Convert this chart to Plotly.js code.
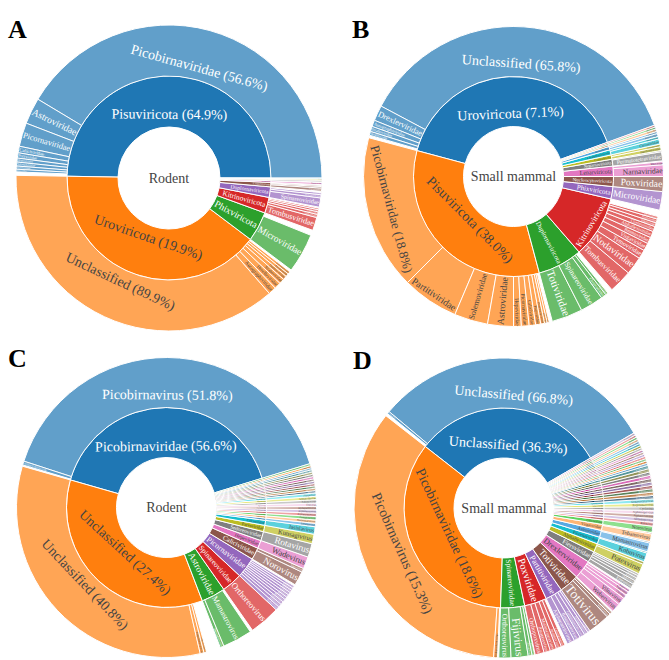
<!DOCTYPE html>
<html>
<head>
<meta charset="utf-8">
<script src="https://cdn.plot.ly/plotly-3.0.1.min.js"></script>
<style>html,body{margin:0;padding:0;background:#fff;}#chart{width:669px;height:660px;}</style>
</head>
<body>
<div id="chart"></div>
<script>
// ---------- Panel A : Rodent, phylum -> family ----------
const rootA = "Rodent";
const phylaA = ["Pisuviricota (64.9%)","Uroviricota (19.9%)","Phixviricota","Kitrinoviricota","Duplornaviricota","Lenarviricota","Negarnaviricota","Cressdnaviricota","Nucleocytoviricota","Artverviricota"];
const phylaValuesA = [179,144,17,9,6,2.5,1,0.7,0.5,0.3];
const familiesA = ["Picobirnaviridae (56.6%)","Astroviridae","Picornaviridae","Caliciviridae","Potyviridae","Hepeviridae","Solemoviridae","Partitiviridae","Secoviridae",
  "Unclassified (89.9%)","Autographiviridae","Herelleviridae","Straboviridae","Demerecviridae","Drexlerviridae","Ackermannviridae",
  "Microviridae",
  "Tombusviridae","Nodaviridae","Tymoviridae","Virgaviridae","Bromoviridae",
  "Spinareoviridae","Sedoreoviridae","Totiviridae",
  "Fiersviridae","Narnaviridae","Mitoviridae",
  "Rhabdoviridae","Circoviridae","Poxviridae","Retroviridae"];
const familyParentsA = [0,0,0,0,0,0,0,0,0, 1,1,1,1,1,1,1, 2, 3,3,3,3,3, 4,4,4, 5,5,5, 6,7,8,9];
const familyValuesA = [149,10,9,2.5,2,1.5,1.5,1.2,1, 132,3,2.5,2,1.5,1.2,1, 15, 5,1.2,1,0.8,0.6, 3.5,1.2,0.8, 1.2,0.6,0.4, 0.8,0.6,0.4,0.3];

// ---------- Panel B : Small mammal, phylum -> family ----------
const rootB = "Small mammal";
const phylaB = ["Uroviricota (7.1%)","Pisuviricota (38.0%)","Duplornaviricota","Kitrinoviricota","Phixviricota","Nucleocytoviricota","Lenarviricota","Negarnaviricota","Cossaviricota","Cressdnaviricota","Artverviricota","Hofneiviricota","Peploviricota","Preplasmiviricota"];
const phylaValuesB = [145,120,26,36,7.2,5.8,6,4,2.5,3,2,1,0.8,0.7];
const familiesB = ["Unclassified (65.8%)","Drexlerviridae","Autographiviridae","Straboviridae","Herelleviridae",
  "Picobirnaviridae (18.8%)","Partitiviridae","Solemoviridae","Astroviridae","Hepeviridae","Picornaviridae","Caliciviridae","Potyviridae","Botourmiaviridae","Secoviridae","Luteoviridae",
  "Totiviridae","Spinareoviridae","Chrysoviridae","Sedoreoviridae",
  "Tombusviridae","Nodaviridae","Tymoviridae","Virgaviridae","Bromoviridae","Alphaflexiviridae","Closteroviridae","Togaviridae","Flaviviridae","Betaflexiviridae",
  "Microviridae","Poxviridae","Narnaviridae","Mitoviridae","Permutotetraviridae","Rhabdoviridae",
  "Papillomaviridae","Polyomaviridae","Circoviridae","Smacoviridae","Retroviridae","Caulimoviridae","Inoviridae","Herpesviridae","Adenoviridae"];
const familyParentsB = [0,0,0,0,0, 1,1,1,1,1,1,1,1,1,1,1, 2,2,2,2, 3,3,3,3,3,3,3,3,3,3, 4,5,6,6,7,7, 8,8,9,9,10,10,11,12,13];
const familyValuesB = [132,6,2.5,2,1.5, 60,22,13,10,3,3,2.5,2,1.5,1,0.8, 12,9,2,1, 9,7,3.5,3,2.5,2.5,2,1.5,1.5,1, 7.2,5.8,4.5,1.2,3.5,0.5, 1.5,1,2,1,1.2,0.8,1,0.8,0.7];

// ---------- Panel C : Rodent, family -> genus ----------
const rootC = "Rodent";
const familiesC = ["Picobirnaviridae (56.6%)","Unclassified (27.4%)","Astroviridae","Spinareoviridae","Picornaviridae","Caliciviridae","Hepeviridae","Sedoreoviridae","Parvoviridae","Circoviridae",
  "Virgaviridae","Smacoviridae","Genomoviridae","Anelloviridae","Tombusviridae","Partitiviridae","Totiviridae","Solemoviridae","Nodaviridae","Narnaviridae",
  "Mitoviridae","Botourmiaviridae","Alphaflexiviridae","Betaflexiviridae","Secoviridae","Potyviridae","Bromoviridae","Tymoviridae","Luteoviridae","Polyomaviridae",
  "Papillomaviridae","Adenoviridae","Herpesviridae"];
const familyValuesC = [147,127,14,12,12,7,4.7,5.3,3.7,2.9,
  1.3,1.3,1.3,1.3,1.3,1.3,1.3,1.3,1.3,1.3,
  0.9,0.9,0.9,0.9,0.9,0.9,0.9,0.9,0.9,0.9,
  0.8,0.8,0.8];
const generaC = ["Picobirnavirus (51.8%)","Orthopicobirnavirus",
  "Unclassified (40.8%)","Porprismacovirus","Gemycircularvirus",
  "Mastadenovirus","Mamastrovirus","Orthoreovirus",
  "Kobuvirus","Enterovirus","Parechovirus","Hunnivirus","Mosavirus","Rosavirus","Cardiovirus","Sapelovirus","Hepatovirus","Aphthovirus",
  "Norovirus","Sapovirus","Wadevirus","Rotavirus","Kunsagivirus","Jasislavirus",
  "Tobamovirus","Huchismacovirus","Gemykibivirus","Alphatorquevirus","Alphanecrovirus","Alphapartitivirus","Totivirus","Sobemovirus","Alphanodavirus","Narnavirus",
  "Mitovirus","Ourmiavirus","Potexvirus","Carlavirus","Nepovirus","Potyvirus","Cucumovirus","Tymovirus","Polerovirus","Betapolyomavirus",
  "Alphapapillomavirus","Atadenovirus","Simplexvirus"];
const genusParentsC = [0,0, 1,1,1, 2,2,3, 4,4,4,4,4,4,4,4,4,4, 5,5,6,7,8,9,
  10,11,12,13,14,15,16,17,18,19, 20,21,22,23,24,25,26,27,28,29, 30,31,32];
const genusValuesC = [145,1.5, 119,1.5,1, 1.5,11.5,12, 1.5,1.3,1.2,1.2,1.1,1.1,1.1,1,1,0.9, 5.5,1.5,4.7,5.3,3.7,2.9,
  1.3,1.3,1.3,1.3,1.3,1.3,1.3,1.3,1.3,1.3, 0.9,0.9,0.9,0.9,0.9,0.9,0.9,0.9,0.9,0.9, 0.8,0.8,0.8];

// ---------- Panel D : Small mammal, family -> genus ----------
const rootD = "Small mammal";
const familiesD = ["Unclassified (36.3%)","Picobirnaviridae (18.6%)","Spinareoviridae","Poxviridae","Partitiviridae","Totiviridae","Drexlerviridae","Fiersviridae","Alphaflexiviridae","Picornaviridae",
  "Astroviridae","Virgaviridae","Caliciviridae","Sedoreoviridae","Hepeviridae","Tombusviridae","Anelloviridae","Circoviridae","Smacoviridae","Genomoviridae",
  "Parvoviridae","Nodaviridae","Solemoviridae","Narnaviridae","Mitoviridae","Botourmiaviridae","Betaflexiviridae","Secoviridae","Potyviridae","Bromoviridae",
  "Tymoviridae","Luteoviridae","Polyomaviridae","Papillomaviridae","Adenoviridae","Herpesviridae","Retroviridae","Flaviviridae","Togaviridae","Coronaviridae",
  "Paramyxoviridae","Rhabdoviridae","Microviridae","Inoviridae","Autographiviridae"];
const familyValuesD = [112,126,14,13,10,11.5,11,6.5,5,4,
  4,3.5,2.5,1.5,1.5,1.5,1.5,1.5,1.5,1.5,
  1.3,1.3,1.3,1.3,1.3,1.3,1.3,1.3,1.3,1.3,
  0.9,0.9,0.9,0.9,0.9,0.9,0.9,0.9,0.9,0.9,
  0.9,0.9,0.9,0.9,0.9];
const generaD = ["Unclassified (66.8%)","Lentivirus",
  "Picobirnavirus (15.3%)","Orthopicobirnavirus",
  "Orthoreovirus","Fijivirus","Oryzavirus","Mycoreovirus",
  "Orthopoxvirus","Parapoxvirus","Molluscipoxvirus","Avipoxvirus","Leporipoxvirus",
  "Alphapartitivirus","Betapartitivirus","Gammapartitivirus","Deltapartitivirus","Cryspovirus",
  "Totivirus","Victorivirus","Leishmaniavirus",
  "Webervirus","Vilnavirus","Tlsvirus","Tunavirus","Rogunavirus",
  "Emesvirus","Qubevirus","Kotoivirus","Perrunavirus","Alehxovirus",
  "Potexvirus","Allexivirus","Kobuvirus","Enterovirus","Mamastrovirus","Avastrovirus","Tobamovirus","Tobravirus","Norovirus",
  "Rotavirus","Orthohepevirus","Alphanecrovirus","Alphatorquevirus","Cyclovirus","Porprismacovirus","Gemycircularvirus",
  "Protoparvovirus","Alphanodavirus","Sobemovirus","Narnavirus","Mitovirus","Ourmiavirus","Carlavirus","Nepovirus","Potyvirus","Cucumovirus",
  "Tymovirus","Polerovirus","Betapolyomavirus","Alphapapillomavirus","Mastadenovirus","Simplexvirus","Gammaretrovirus","Pestivirus","Alphavirus","Betacoronavirus",
  "Morbillivirus","Vesiculovirus","Bullavirus","Inovirus","Teseptimavirus"];
const genusParentsD = [0,0, 1,1, 2,2,2,2, 3,3,3,3,3, 4,4,4,4,4, 5,5,5, 6,6,6,6,6, 7,7,7,7,7,
  8,8,9,9,10,10,11,11,12,
  13,14,15,16,17,18,19, 20,21,22,23,24,25,26,27,28,29, 30,31,32,33,34,35,36,37,38,39, 40,41,42,43,44];
const genusValuesD = [110,1, 124,1.5, 4.7,6.6,1.5,1, 3.5,2.5,2.5,2,1.5, 3,2.5,2,1.5,1, 8.5,1.5,1, 3.5,3,1.5,1.5,1, 2,1.5,1.2,1,0.8,
  4,1,3.5,0.5,3.5,0.5,3,0.5,2.5,
  1.5,1.5,1.5,1.5,1.5,1.5,1.5, 1.3,1.3,1.3,1.3,1.3,1.3,1.3,1.3,1.3,1.3,
  0.9,0.9,0.9,0.9,0.9,0.9,0.9,0.9,0.9,0.9, 0.9,0.9,0.9,0.9,0.9];

const panelLetters = ["A","B","C","D"];
const baseColors = ["#1f77b4","#ff7f0e","#2ca02c","#d62728","#9467bd","#8c564b","#e377c2","#7f7f7f","#bcbd22","#17becf"];

// ---------- colour helpers (same extension as Plotly's sunburst: base, 20% lighter, 20% darker) ----------
function hexToHsl(hex) {
  const r = parseInt(hex.slice(1, 3), 16) / 255, g = parseInt(hex.slice(3, 5), 16) / 255, b = parseInt(hex.slice(5, 7), 16) / 255;
  const mx = Math.max(r, g, b), mn = Math.min(r, g, b);
  let h = 0, s = 0; const l = (mx + mn) / 2;
  if (mx !== mn) {
    const d = mx - mn;
    s = l > 0.5 ? d / (2 - mx - mn) : d / (mx + mn);
    if (mx === r) h = (g - b) / d + (g < b ? 6 : 0);
    else if (mx === g) h = (b - r) / d + 2;
    else h = (r - g) / d + 4;
    h /= 6;
  }
  return [h, s, l];
}
function hslToHex(h, s, l) {
  function hue2rgb(p, q, t) {
    if (t < 0) t += 1; if (t > 1) t -= 1;
    if (t < 1 / 6) return p + (q - p) * 6 * t;
    if (t < 1 / 2) return q;
    if (t < 2 / 3) return p + (q - p) * (2 / 3 - t) * 6;
    return p;
  }
  let r, g, b;
  if (s === 0) { r = g = b = l; } else {
    const q = l < 0.5 ? l * (1 + s) : l + s - l * s, p = 2 * l - q;
    r = hue2rgb(p, q, h + 1 / 3); g = hue2rgb(p, q, h); b = hue2rgb(p, q, h - 1 / 3);
  }
  const hx = v => ("0" + Math.round(v * 255).toString(16)).slice(-2);
  return "#" + hx(r) + hx(g) + hx(b);
}
function shift(hex, dl) { const c = hexToHsl(hex); return hslToHex(c[0], c[1], Math.min(1, Math.max(0, c[2] + dl))); }
const extColors = baseColors.concat(baseColors.map(c => shift(c, 0.2)), baseColors.map(c => shift(c, -0.2)));

// ---------- build ----------
const W = 669, H = 660;
const FONT = "Liberation Serif";
function dom(cx, cy, r) {
  return {x: [(cx - r) / W, (cx + r) / W], y: [(H - cy - r) / H, (H - cy + r) / H]};
}
function sunburst(key, root, inner, innerVals, outer, outerParents, outerVals, domain, rotation) {
  const ids = [key], labels = [root], parents = [""], colors = ["rgba(0,0,0,0)"];
  const total = innerVals.reduce((a, b) => a + b, 0);
  const values = [total];
  inner.forEach((l, i) => {
    ids.push(key + "/" + i); labels.push(l); parents.push(key); values.push(innerVals[i]);
    colors.push(extColors[i % extColors.length]);
  });
  outer.forEach((l, j) => {
    const p = outerParents[j];
    ids.push(key + "/" + p + "/" + j); labels.push(l);
    parents.push(key + "/" + p); values.push(outerVals[j]);
    colors.push(extColors[p % extColors.length]);
  });
  return {
    type: "sunburst", ids, labels, parents, values,
    branchvalues: "total", sort: false, rotation: rotation, domain: domain,
    textinfo: "label", insidetextorientation: "auto",
    textfont: {family: FONT, size: 14},
    insidetextfont: {family: FONT, size: 14},
    outsidetextfont: {family: FONT, size: 14},
    marker: {colors: colors, line: {color: "#ffffff", width: 1}},
    leaf: {opacity: 0.7},
    hoverinfo: "label"
  };
}
const data = [
  sunburst("A", rootA, phylaA, phylaValuesA, familiesA, familyParentsA, familyValuesA, dom(169, 178, 153), 0),
  sunburst("B", rootB, phylaB, phylaValuesB, familiesB, familyParentsB, familyValuesB, dom(513.5, 176.5, 150), 20),
  sunburst("C", rootC, familiesC, familyValuesC, generaC, genusParentsC, genusValuesC, dom(166.5, 507.5, 150), 17),
  sunburst("D", rootD, familiesD, familyValuesD, generaD, genusParentsD, genusValuesD, dom(504, 508, 150), 30)
];
const letterPos = [[17, 29], [360, 29], [17, 358], [362, 360]];
const annotations = panelLetters.map((t, i) => ({
  text: "<b>" + t + "</b>", xref: "paper", yref: "paper",
  x: letterPos[i][0] / W, y: 1 - letterPos[i][1] / H, xanchor: "center", yanchor: "middle",
  showarrow: false, font: {family: FONT, size: 26, color: "#000"}
}));
const layout = {
  width: W, height: H, margin: {l: 0, r: 0, t: 0, b: 0},
  paper_bgcolor: "#ffffff", font: {family: FONT, size: 14, color: "#444"},
  showlegend: false, annotations: annotations
};
Plotly.newPlot("chart", data, layout, {displayModeBar: false, staticPlot: true});
</script>
</body>
</html>
